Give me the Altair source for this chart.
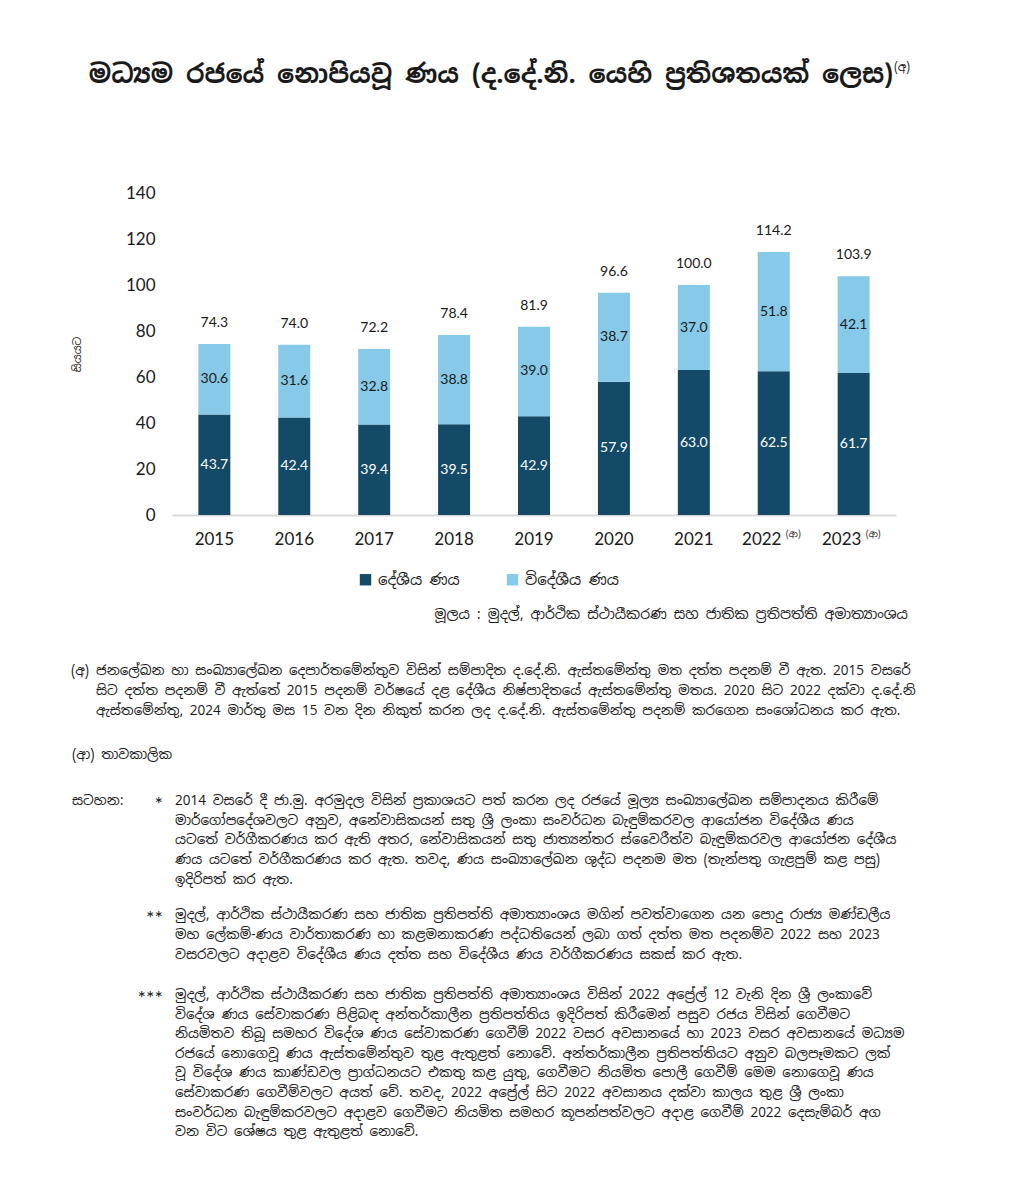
import altair as alt
import pandas as pd

# ---------------- data ----------------
years = ["2015", "2016", "2017", "2018", "2019", "2020", "2021", "2022", "2023"]
domestic = [43.7, 42.4, 39.4, 39.5, 42.9, 57.9, 63.0, 62.5, 61.7]
foreign = [30.6, 31.6, 32.8, 38.8, 39.0, 38.7, 37.0, 51.8, 42.1]
totals = [74.3, 74.0, 72.2, 78.4, 81.9, 96.6, 100.0, 114.2, 103.9]
provisional = ["2022", "2023"]
series_names = ["දේශීය ණය", "විදේශීය ණය"]
y_ticks = [0, 20, 40, 60, 80, 100, 120, 140]

ZWJ = "\u200d"
title_text = f"මධ{chr(0x0DCA)}{ZWJ}යම රජයේ නොපියවූ ණය (ද.දේ.නි. යෙහි ප්{ZWJ}රතිශතයක් ලෙස)"
title_sup = "(අ)"
year_sup = "(ආ)"
y_title = "සියයට"
source_text = f"මූලය : මුදල්, ආර්ථික ස්ථායීකරණ සහ ජාතික ප්{ZWJ}රතිපත්ති අමාත්{ZWJ}යාංශය"

note_a = [
    "ජනලේඛන හා සංඛ්" + ZWJ + "යාලේඛන දෙපාර්තමේන්තුව විසින් සම්පාදිත ද.දේ.නි. ඇස්තමේන්තු මත දත්ත පදනම් වී ඇත. 2015 වසරේ",
    "සිට දත්ත පදනම් වී ඇත්තේ 2015 පදනම් වර්ෂයේ දළ දේශීය නිෂ්පාදිතයේ ඇස්තමේන්තු මතය. 2020 සිට 2022 දක්වා ද.දේ.නි",
    "ඇස්තමේන්තු, 2024 මාර්තු මස 15 වන දින නිකුත් කරන ලද ද.දේ.නි. ඇස්තමේන්තු පදනම් කරගෙන සංශෝධනය කර ඇත.",
]
note_aa = "(ආ) තාවකාලික"
note_label = "සටහන:"
note_1 = [
    "2014 වසරේ දී ජා.මු. අරමුදල විසින් ප්" + ZWJ + "රකාශයට පත් කරන ලද රජයේ මූල්" + ZWJ + "ය සංඛ්" + ZWJ + "යාලේඛන සම්පාදනය කිරීමේ",
    "මාර්ගෝපදේශවලට අනුව, අනේවාසිකයන් සතු ශ්" + ZWJ + "රී ලංකා සංවර්ධන බැඳුම්කරවල ආයෝජන විදේශීය ණය",
    "යටතේ වර්ගීකරණය කර ඇති අතර, නේවාසිකයන් සතු ජාත්" + ZWJ + "යන්තර ස්වෛරීත්ව බැඳුම්කරවල ආයෝජන දේශීය",
    "ණය යටතේ වර්ගීකරණය කර ඇත. තවද, ණය සංඛ්" + ZWJ + "යාලේඛන ශුද්ධ පදනම මත (තැන්පතු ගැළපුම් කළ පසු)",
    "ඉදිරිපත් කර ඇත.",
]
note_2 = [
    "මුදල්, ආර්ථික ස්ථායීකරණ සහ ජාතික ප්" + ZWJ + "රතිපත්ති අමාත්" + ZWJ + "යාංශය මගින් පවත්වාගෙන යන පොදු රාජ්" + ZWJ + "ය මණ්ඩලීය",
    "මහ ලේකම්-ණය වාර්තාකරණ හා කළමනාකරණ පද්ධතියෙන් ලබා ගත් දත්ත මත පදනම්ව 2022 සහ 2023",
    "වසරවලට අදාළව විදේශීය ණය දත්ත සහ විදේශීය ණය වර්ගීකරණය සකස් කර ඇත.",
]
note_3 = [
    "මුදල්, ආර්ථික ස්ථායීකරණ සහ ජාතික ප්" + ZWJ + "රතිපත්ති අමාත්" + ZWJ + "යාංශය විසින් 2022 අප්" + ZWJ + "රේල් 12 වැනි දින ශ්" + ZWJ + "රී ලංකාවේ",
    "විදේශ ණය සේවාකරණ පිළිබඳ අන්තර්කාලීන ප්" + ZWJ + "රතිපත්තිය ඉදිරිපත් කිරීමෙන් පසුව රජය විසින් ගෙවීමට",
    "නියමිතව තිබූ සමහර විදේශ ණය සේවාකරණ ගෙවීම් 2022 වසර අවසානයේ හා 2023 වසර අවසානයේ මධ්" + ZWJ + "යම",
    "රජයේ නොගෙවූ ණය ඇස්තමේන්තුව තුළ ඇතුළත් නොවේ. අන්තර්කාලීන ප්" + ZWJ + "රතිපත්තියට අනුව බලපෑමකට ලක්",
    "වූ විදේශ ණය කාණ්ඩවල ප්" + ZWJ + "රාග්ධනයට එකතු කළ යුතු, ගෙවීමට නියමිත පොලී ගෙවීම් මෙම නොගෙවූ ණය",
    "සේවාකරණ ගෙවීම්වලට අයත් වේ. තවද, 2022 අප්" + ZWJ + "රේල් සිට 2022 අවසානය දක්වා කාලය තුළ ශ්" + ZWJ + "රී ලංකා",
    "සංවර්ධන බැඳුම්කරවලට අදාළව ගෙවීමට නියමිත සමහර කූපන්පත්වලට අදාළ ගෙවීම් 2022 දෙසැම්බර් අග",
    "වන විට ශේෂය තුළ ඇතුළත් නොවේ.",
]

# ---------------- styling ----------------
W, H = 724, 322
DARK = "#134a67"
LIGHT = "#86c9e9"
TXT = "#1a1a1a"
NUM_FONT = "Lato"
SI_FONT = "Noto Sans Sinhala, Noto Sans, sans-serif"

rows = []
for i, yr in enumerate(years):
    rows.append(dict(year=yr, series=series_names[0], value=domestic[i], ord=0,
                     mid=domestic[i] / 2, label=f"{domestic[i]:.1f}"))
    rows.append(dict(year=yr, series=series_names[1], value=foreign[i], ord=1,
                     mid=domestic[i] + foreign[i] / 2, label=f"{foreign[i]:.1f}"))
bars_df = pd.DataFrame(rows)
tot_df = pd.DataFrame(dict(year=years,
                           top=[d + f for d, f in zip(domestic, foreign)],
                           label=[f"{t:.1f}" for t in totals]))
yr_df = pd.DataFrame(dict(year=years, prov=[y in provisional for y in years]))

x_scale = alt.Scale(domain=years, paddingInner=0.6, paddingOuter=0.33)
y_scale = alt.Scale(domain=[0, 140], nice=False)
x_axis = alt.Axis(title=None, labels=False, ticks=False, domainColor="#d9d9d9",
                  domainWidth=2, grid=False)
y_axis = alt.Axis(title=y_title, values=y_ticks, ticks=False, domain=False, grid=False,
                  labelFont=NUM_FONT, labelFontSize=17, labelColor=TXT, labelPadding=17,
                  titleFont=SI_FONT, titleFontSize=11, titleFontWeight="normal",
                  titleColor=TXT, titleX=-95, titleY=H / 2, titleAngle=270,
                  titleBaseline="middle", titleAlign="center")

X = alt.X("year:N", scale=x_scale, axis=x_axis, sort=years)

bars = alt.Chart(bars_df).mark_bar().encode(
    x=X,
    y=alt.Y("value:Q", stack="zero", scale=y_scale, axis=y_axis),
    color=alt.Color("series:N", sort=series_names,
                    scale=alt.Scale(domain=series_names, range=[DARK, LIGHT]),
                    legend=alt.Legend(orient="none", legendX=186, legendY=379,
                                      direction="horizontal", title=None,
                                      symbolType="square", symbolSize=130,
                                      symbolStrokeWidth=0, labelFont=SI_FONT,
                                      labelFontSize=15, labelColor=TXT,
                                      labelOffset=5, columnPadding=45)),
    order=alt.Order("ord:Q", sort="ascending"),
)

dom_lbl = alt.Chart(bars_df).transform_filter(alt.datum.ord == 0).mark_text(
    font=NUM_FONT, fontSize=14, color="white", baseline="middle"
).encode(x=X, y=alt.Y("mid:Q", scale=y_scale, axis=y_axis), text="label:N")

for_lbl = alt.Chart(bars_df).transform_filter(alt.datum.ord == 1).mark_text(
    font=NUM_FONT, fontSize=14, color=TXT, baseline="middle"
).encode(x=X, y=alt.Y("mid:Q", scale=y_scale, axis=y_axis), text="label:N")

tot_lbl = alt.Chart(tot_df).mark_text(
    font=NUM_FONT, fontSize=14, color=TXT, baseline="middle", dy=-21
).encode(x=X, y=alt.Y("top:Q", scale=y_scale, axis=y_axis), text="label:N")

yr_reg = alt.Chart(yr_df).transform_filter(~alt.datum.prov).mark_text(
    font=NUM_FONT, fontSize=17, color=TXT, baseline="middle"
).encode(x=X, y=alt.value(H + 25), text="year:N")

yr_prov = alt.Chart(yr_df).transform_filter(alt.datum.prov).mark_text(
    font=NUM_FONT, fontSize=17, color=TXT, baseline="middle", dx=-12
).encode(x=X, y=alt.value(H + 25), text="year:N")

yr_sup = alt.Chart(yr_df).transform_filter(alt.datum.prov).mark_text(
    font=SI_FONT, fontSize=9, color=TXT, baseline="middle", align="left", dx=12
).encode(x=X, y=alt.value(H + 19), text=alt.value(year_sup))


def text_block(lines, x, y, size=13.5, align="left", weight="normal", line_h=19.7,
               font=SI_FONT):
    df = pd.DataFrame({"t": ["\n".join(lines) if isinstance(lines, list) else lines]})
    return alt.Chart(df).mark_text(
        font=font, fontSize=size, fontWeight=weight, color=TXT, align=align,
        baseline="middle", lineBreak="\n", lineHeight=line_h
    ).encode(x=alt.value(x), y=alt.value(y), text="t:N")


ann = [
    text_block(title_text, 319, -118, size=25.5, align="center", weight="bold"),
    text_block(title_sup, 722, -126, size=12, align="left"),
    text_block(source_text, 736, 422, size=14, align="right"),
    text_block("(අ)", -101, 478, size=13.5),
    text_block(note_a, -76, 478, size=13.5, line_h=20),
    text_block(note_aa, -100, 562, size=13.5),
    text_block(note_label, -100, 608, size=13.5),
    text_block("*", -9, 612, size=20, align="right", font=NUM_FONT),
    text_block(note_1, 3, 608, size=13.5),
    text_block("**", -9, 726, size=20, align="right", font=NUM_FONT),
    text_block(note_2, 3, 722, size=13.5, line_h=20),
    text_block("***", -9, 806, size=20, align="right", font=NUM_FONT),
    text_block(note_3, 3, 802, size=13.5, line_h=19.6),
]

chart = alt.layer(bars, dom_lbl, for_lbl, tot_lbl, yr_reg, yr_prov, yr_sup, *ann).properties(
    width=W, height=H,
    background="white",
    autosize=alt.AutoSizeParams(type="none"),
    padding={"left": 164, "top": 185, "right": 100, "bottom": 645},
).configure_view(stroke=None)

chart.save("out.html", embed_options={"renderer": "svg", "actions": False})
